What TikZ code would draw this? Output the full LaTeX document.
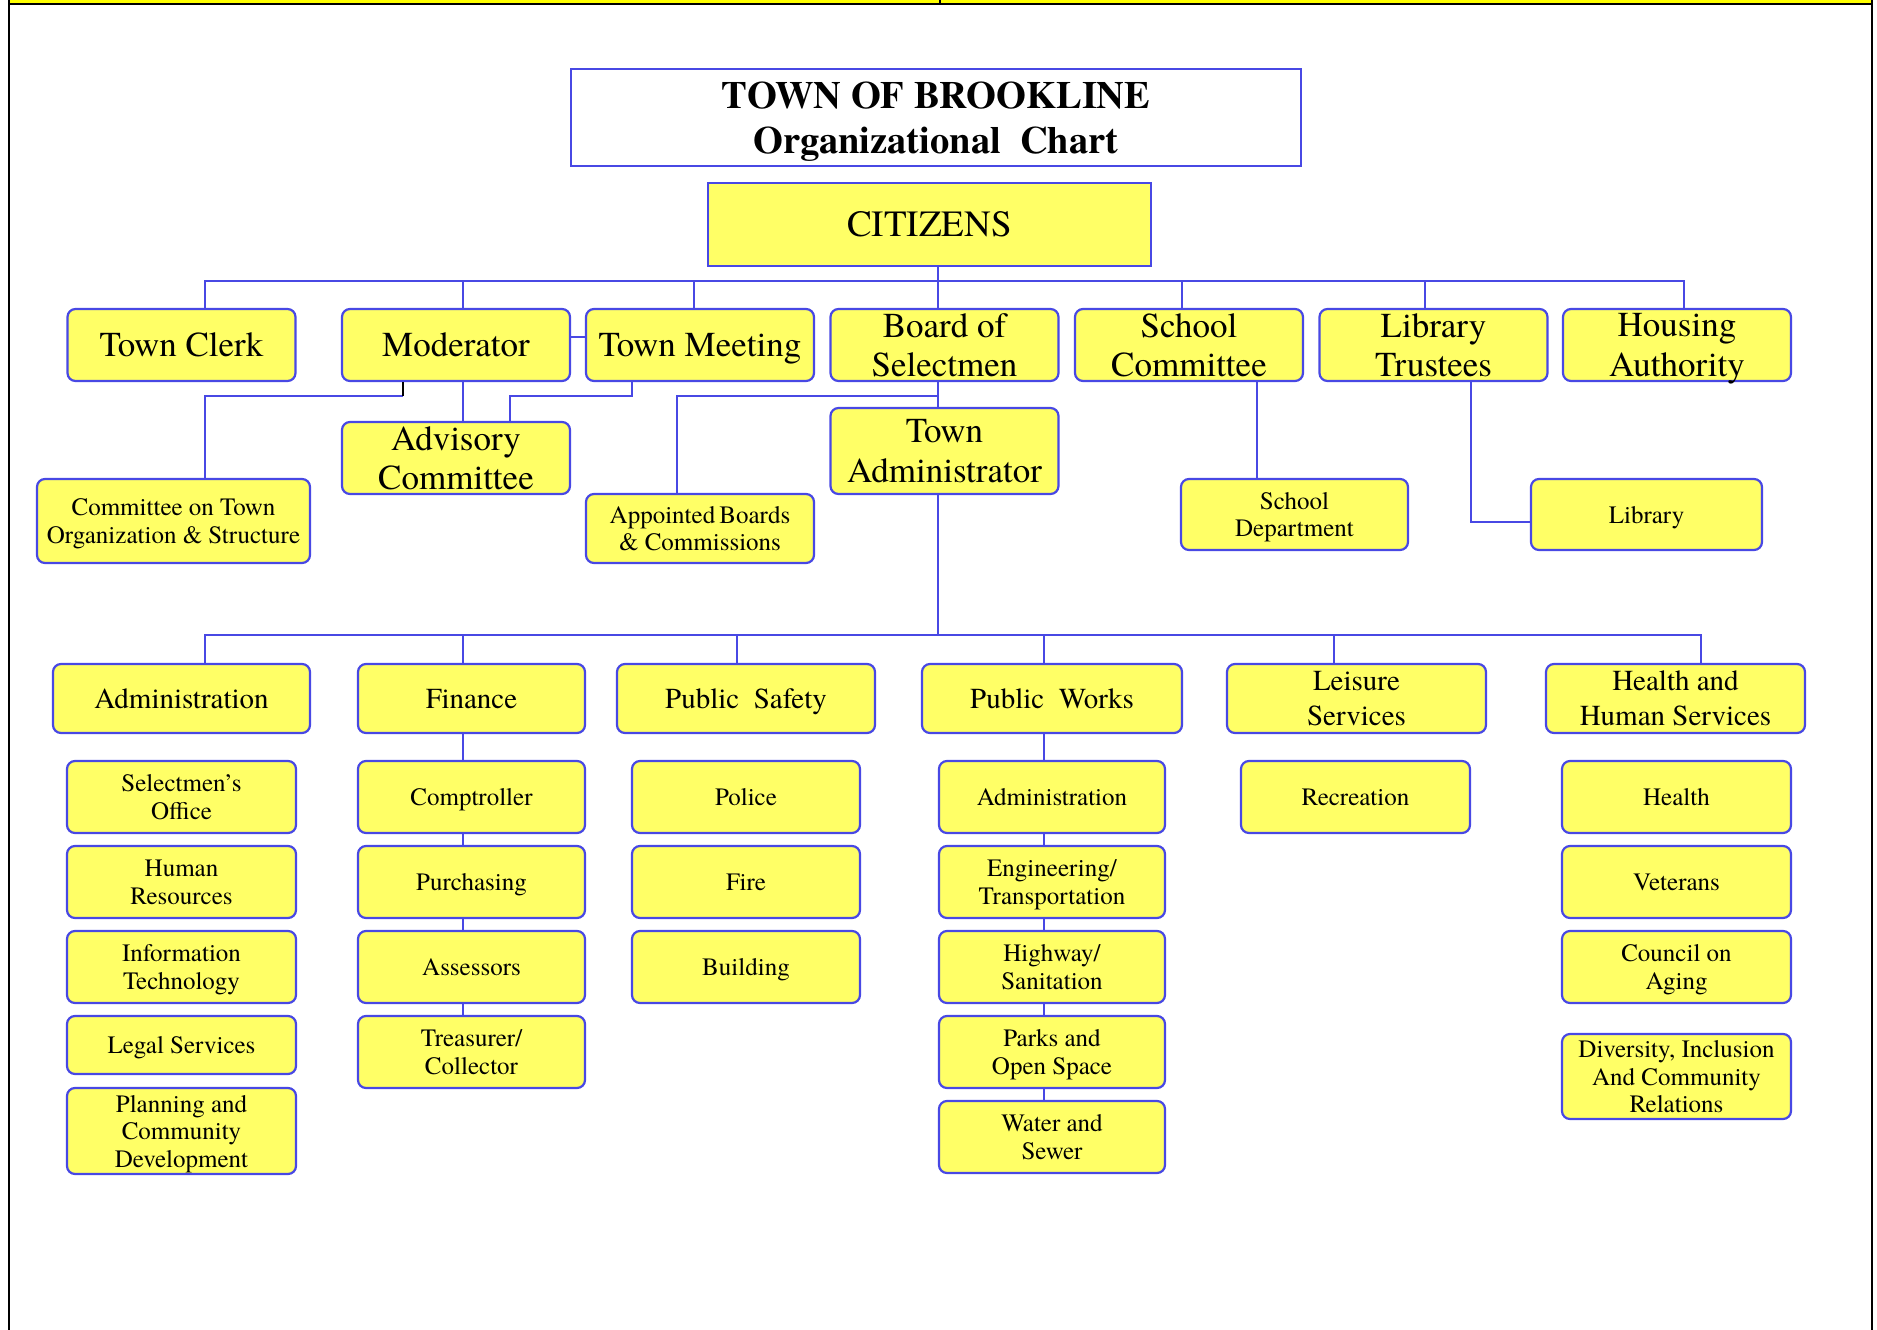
\documentclass[tikz,border=0pt]{standalone}
\usepackage{fontspec}
\setmainfont{TeX Gyre Termes}
\definecolor{boxyellow}{RGB}{255,255,102}
\definecolor{bandyellow}{RGB}{255,255,0}
\definecolor{lineblue}{RGB}{72,72,228}

\begin{document}
\begin{tikzpicture}[x=1pt,y=-1pt,
    box/.style={draw=lineblue,fill=boxyellow,line width=2.2pt,rounded corners=8pt,inner sep=0pt,align=center,text depth=0pt},
    topbox/.style={box,minimum width=228pt,minimum height=72pt,font=\fontsize{35}{39.5}\selectfont},
    deptbox/.style={box,minimum height=69pt,font=\fontsize{29}{35}\selectfont},
    unitbox/.style={box,minimum width=228pt,minimum height=72pt,font=\fontsize{25}{27.5}\selectfont},
    link/.style={lineblue,line width=1.8pt}]
    \useasboundingbox (0,0) rectangle (1877,1330);

    % Page frame
    \fill[bandyellow] (10,0) rectangle (1872,3);
    \draw[black,line width=2pt] (8,4) -- (1873,4);
    \draw[black,line width=2pt] (940,0) -- (940,4);
    \draw[black,line width=2.5pt] (9,0) -- (9,1330);
    \draw[black,line width=2.5pt] (1872,0) -- (1872,1330);

    % Levels of the two buses
    \def\topbus{281}
    \def\lowbus{635}

    % Heading
    \node[draw=lineblue,line width=2pt,fill=white,minimum width=730pt,minimum height=97pt,align=center,text depth=0pt,
        font=\fontsize{38.5}{45}\selectfont\bfseries] (title) at (936,117.5) {TOWN OF BROOKLINE\\Organizational~~Chart};
    \node[draw=lineblue,fill=boxyellow,line width=2.2pt,minimum width=443pt,minimum height=83pt,
        font=\fontsize{37}{40}\selectfont] (citizens) at (929.5,224.5) {CITIZENS};

    % Elected offices
    \node[topbox] (clerk) at (181.5,345) {Town Clerk};
    \node[topbox] (moderator) at (456,345) {Moderator};
    \node[topbox] (meeting) at (700,345) {Town Meeting};
    \node[topbox] (selectmen) at (944.5,345) {Board of\\Selectmen};
    \node[topbox] (schoolcom) at (1189,345) {School\\Committee};
    \node[topbox] (trustees) at (1433.5,345) {Library\\Trustees};
    \node[topbox] (housing) at (1677,345) {Housing\\Authority};

    % Second level
    \node[unitbox,minimum width=273pt,minimum height=84pt] (cots) at (173.5,521) {Committee on Town\\Organization \& Structure};
    \node[topbox] (advisory) at (456,458) {Advisory\\Committee};
    \node[unitbox,minimum height=69pt] (appointed) at (700,528.5) {Appointed\,Boards\\\& Commissions};
    \node[topbox,minimum height=86pt] (admin) at (944.5,451) {Town\\Administrator};
    \node[unitbox,minimum width=227pt,minimum height=71pt] (schooldept) at (1294.5,514.5) {School\\Department};
    \node[unitbox,minimum width=231pt,minimum height=71pt] (library) at (1646.5,514.5) {Library};

    % Departments
    \node[deptbox,minimum width=257pt] (dadmin) at (181.5,698.5) {Administration};
    \node[deptbox,minimum width=227pt] (dfin) at (471.5,698.5) {Finance};
    \node[deptbox,minimum width=258pt] (dsafe) at (746,698.5) {Public~~Safety};
    \node[deptbox,minimum width=260pt] (dpw) at (1052,698.5) {Public~~Works};
    \node[deptbox,minimum width=259pt] (dleis) at (1356.5,698.5) {Leisure\\Services};
    \node[deptbox,minimum width=259pt] (dhhs) at (1675.5,698.5) {Health and\\Human Services};

    % Administration units
    \node[unitbox,minimum width=229pt] (aoffice) at (181.5,797) {Selectmen’s\\Office};
    \node[unitbox,minimum width=229pt] (ahr) at (181.5,882) {Human\\Resources};
    \node[unitbox,minimum width=229pt] (ait) at (181.5,967) {Information\\Technology};
    \node[unitbox,minimum width=229pt,minimum height=58pt] (alegal) at (181.5,1045) {Legal Services};
    \node[unitbox,minimum width=229pt,minimum height=86pt] (aplan) at (181.5,1131) {Planning and\\Community\\Development};

    % Finance units
    \node[unitbox,minimum width=227pt] (fcomp) at (471.5,797) {Comptroller};
    \node[unitbox,minimum width=227pt] (fpurch) at (471.5,882) {Purchasing};
    \node[unitbox,minimum width=227pt] (fassess) at (471.5,967) {Assessors};
    \node[unitbox,minimum width=227pt] (ftreas) at (471.5,1052) {Treasurer/\\Collector};

    % Public safety units
    \node[unitbox] (police) at (746,797) {Police};
    \node[unitbox] (fire) at (746,882) {Fire};
    \node[unitbox] (building) at (746,967) {Building};

    % Public works units
    \node[unitbox,minimum width=226pt] (padmin) at (1052,797) {Administration};
    \node[unitbox,minimum width=226pt] (peng) at (1052,882) {Engineering/\\Transportation};
    \node[unitbox,minimum width=226pt] (phwy) at (1052,967) {Highway/\\Sanitation};
    \node[unitbox,minimum width=226pt] (pparks) at (1052,1052) {Parks and\\Open Space};
    \node[unitbox,minimum width=226pt] (pwater) at (1052,1137) {Water and\\Sewer};

    % Leisure and health units
    \node[unitbox,minimum width=229pt] (recreation) at (1355.5,797) {Recreation};
    \node[unitbox,minimum width=229pt] (health) at (1676.5,797) {Health};
    \node[unitbox,minimum width=229pt] (veterans) at (1676.5,882) {Veterans};
    \node[unitbox,minimum width=229pt] (aging) at (1676.5,967) {Council on\\Aging};
    \node[unitbox,minimum width=229pt,minimum height=85pt] (diversity) at (1676.5,1076.5) {Diversity, Inclusion\\And Community\\Relations};

    % Top bus
    \coordinate (topW) at (205,\topbus);
    \coordinate (topE) at (1684,\topbus);
    \draw[link] (topW) -- (topE);
    \draw[link] ([xshift=8.5pt]citizens.south) -- ([xshift=-6.5pt]selectmen.north);
    \foreach \n/\dx in {clerk/23.5,moderator/7,meeting/-6,schoolcom/-7,trustees/-8.5,housing/7}
        \draw[link] ([xshift=\dx pt]\n.north) -- ++(0,-28);
    \draw[link] (moderator.east) ++(0,-8) -- ([yshift=8pt]meeting.west);

    % Second level links
    \draw[link] ([xshift=-53pt]moderator.south) ++(0,14) -| ([xshift=31.5pt]cots.north);
    \draw[black,line width=1.5pt] ([xshift=-53pt]moderator.south) -- ++(0,14);
    \draw[link] ([xshift=7pt]moderator.south) -- ([xshift=7pt]advisory.north);
    \draw[link] ([xshift=-68pt]meeting.south) -- ++(0,14) -| ([xshift=54pt]advisory.north);
    \draw[link] ([xshift=-6.5pt]selectmen.south) -- ([xshift=-6.5pt]admin.north);
    \draw[link] ([xshift=-6.5pt]selectmen.south) ++(0,14) -| ([xshift=-23pt]appointed.north);
    \draw[link] ([xshift=68pt]schoolcom.south) -- ([xshift=-37.5pt]schooldept.north);
    \draw[link] ([xshift=37.5pt]trustees.south) |- ([yshift=-7.5pt]library.west);

    % Lower bus
    \coordinate (lowW) at (205,\lowbus);
    \coordinate (lowE) at (1701,\lowbus);
    \draw[link] (lowW) -- (lowE);
    \draw[link] ([xshift=-6.5pt]admin.south) -- ++(0,141);
    \foreach \n/\dx in {dadmin/23.5,dfin/-8.5,dsafe/-9,dpw/-8,dleis/-22.5,dhhs/25.5}
        \draw[link] ([xshift=\dx pt]\n.north) -- ++(0,-29);

    % Chains under finance and public works
    \foreach \a/\b in {dfin/fcomp,fcomp/fpurch,fpurch/fassess,fassess/ftreas}
        \draw[link] ([xshift=-8.5pt]\a.south) -- ([xshift=-8.5pt]\b.north);
    \foreach \a/\b in {dpw/padmin,padmin/peng,peng/phwy,phwy/pparks,pparks/pwater}
        \draw[link] ([xshift=-8pt]\a.south) -- ([xshift=-8pt]\b.north);
\end{tikzpicture}
\end{document}
